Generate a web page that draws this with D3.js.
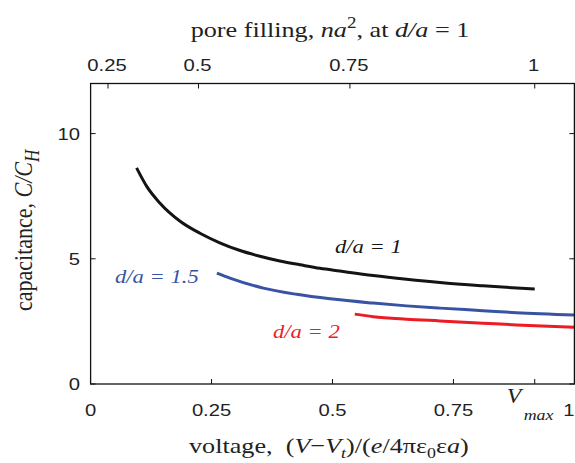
<!DOCTYPE html>
<html>
<head>
<meta charset="utf-8">
<script src="https://cdn.jsdelivr.net/npm/d3@7"></script>
<style>
  body { margin: 0; background: #fff; }
  .tick-label { font-family: "Liberation Sans", Arial, sans-serif; font-size: 17px; fill: #222; }
  .title { font-family: "Liberation Serif", "Times New Roman", serif; font-size: 22px; fill: #222; }
</style>
</head>
<body>
<div id="chart"></div>
<script>
// 1: DATA (voltage, capacitance)
const voltage1 = [0.095, 0.116, 0.143, 0.185, 0.226, 0.267, 0.309, 0.350, 0.391, 0.433, 0.474, 0.515, 0.584, 0.653, 0.722, 0.811, 0.918];
const cap1     = [8.63, 7.89, 7.23, 6.50, 6.02, 5.64, 5.33, 5.10, 4.91, 4.76, 4.62, 4.51, 4.33, 4.18, 4.05, 3.92, 3.79];

const voltage15 = [0.261, 0.288, 0.357, 0.426, 0.495, 0.584, 0.653, 0.722, 0.811, 0.880, 1.0];
const cap15     = [4.43, 4.23, 3.83, 3.58, 3.40, 3.23, 3.12, 3.03, 2.93, 2.85, 2.76];

const voltage2 = [0.546, 0.584, 0.653, 0.722, 0.811, 0.880, 1.0];
const cap2     = [2.79, 2.69, 2.59, 2.52, 2.43, 2.36, 2.27];

const xTicks = [0, 0.25, 0.5, 0.75, 1];
const yTicks = [0, 5, 10];
const vMax = 0.918;

// top axis: pore filling values and where they fall in voltage
const topTickLabels = ["0.25", "0.5", "0.75", "1"];
const topTickVoltage = [0.036, 0.223, 0.536, 0.918];

const series = [
  { name: "1",   v: voltage1,  c: cap1,  color: "#141414" },
  { name: "1.5", v: voltage15, c: cap15, color: "#3953a4" },
  { name: "2",   v: voltage2,  c: cap2,  color: "#ed1c24" }
];

// the original figure is a bit wider than tall, so text is stretched sideways
const SX = 1.19;

// 2: SVG + SCALES
const W = 575, H = 463;
const svg = d3.select("#chart").append("svg")
  .attr("width", W).attr("height", H);

const x = d3.scaleLinear().domain([0, 1]).range([90.6, 574.4]);
const y = d3.scaleLinear().domain([0, 12]).range([384, 83.5]);

function addText(cls, tx, ty, anchor) {
  return svg.append("text")
    .attr("class", cls)
    .attr("text-anchor", anchor || "start")
    .attr("transform", `translate(${tx},${ty}) scale(${SX},1)`);
}

// 3: CURVES
const line = d3.line()
  .x(d => x(d[0]))
  .y(d => y(d[1]))
  .curve(d3.curveMonotoneX);

svg.append("clipPath").attr("id", "clip")
  .append("rect")
  .attr("x", x(0)).attr("y", y(12))
  .attr("width", x(1) - x(0)).attr("height", y(0) - y(12));

svg.selectAll(".curve")
  .data(series)
  .enter().append("path")
  .attr("class", "curve")
  .attr("clip-path", "url(#clip)")
  .attr("fill", "none")
  .attr("stroke", d => d.color)
  .attr("stroke-width", 3)
  .attr("d", d => line(d.v.map((v, i) => [v, d.c[i]])));

// 4: FRAME + TICKS
svg.append("rect")
  .attr("x", x(0)).attr("y", y(12))
  .attr("width", x(1) - x(0)).attr("height", y(0) - y(12))
  .attr("fill", "none").attr("stroke", "#111").attr("stroke-width", 1.3);

const tickLen = 5;
const bottomTicks = [0.25, 0.5, 0.75, vMax];
svg.append("g").selectAll("line")
  .data(bottomTicks)
  .enter().append("line")
  .attr("x1", d => x(d)).attr("x2", d => x(d))
  .attr("y1", y(0)).attr("y2", y(0) - tickLen)
  .attr("stroke", "#111");

svg.append("g").selectAll("line")
  .data(topTickVoltage)
  .enter().append("line")
  .attr("x1", d => x(d)).attr("x2", d => x(d))
  .attr("y1", y(12)).attr("y2", y(12) + tickLen)
  .attr("stroke", "#111");

svg.append("g").selectAll("line")
  .data(yTicks)
  .enter().append("line")
  .attr("x1", x(0)).attr("x2", x(0) + tickLen)
  .attr("y1", d => y(d)).attr("y2", d => y(d))
  .attr("stroke", "#111");

svg.append("g").selectAll("line")
  .data(yTicks)
  .enter().append("line")
  .attr("x1", x(1)).attr("x2", x(1) - tickLen)
  .attr("y1", d => y(d)).attr("y2", d => y(d))
  .attr("stroke", "#111");

// 5: TICK LABELS
xTicks.forEach(t => {
  const last = t === 1;
  addText("tick-label", last ? W - 0.5 : x(t), 416, last ? "end" : "middle").text(d3.format("")(t));
});

yTicks.forEach(t => {
  addText("tick-label", 80, y(t) + 6, "end").text(t);
});

topTickVoltage.forEach((v, i) => {
  addText("tick-label", x(v) - 1, 71, "middle").text(topTickLabels[i]);
});

// V_max label
const vmLabel = addText("title", x(vMax) - 28, 403);
vmLabel.append("tspan").attr("font-style", "italic").attr("font-size", 20).text("V");
vmLabel.append("tspan").attr("font-style", "italic").attr("font-size", 15)
  .attr("dx", 2).attr("dy", 17).text("max");

// 6: AXIS TITLES
const topTitle = addText("title", 330, 37, "middle");
topTitle.append("tspan").text("pore filling, ");
topTitle.append("tspan").attr("font-style", "italic").text("na");
topTitle.append("tspan").attr("font-size", 16).attr("dy", -9).text("2");
topTitle.append("tspan").attr("dy", 9).text(", at ");
topTitle.append("tspan").attr("font-style", "italic").text("d/a");
topTitle.append("tspan").text(" = 1");

const bottomTitle = addText("title", 189, 453);
bottomTitle.append("tspan").text("voltage,\u00a0\u00a0(");
bottomTitle.append("tspan").attr("font-style", "italic").text("V");
bottomTitle.append("tspan").text("\u2212");
bottomTitle.append("tspan").attr("font-style", "italic").text("V");
bottomTitle.append("tspan").attr("font-style", "italic").attr("font-size", 15).attr("dy", 5).text("t");
bottomTitle.append("tspan").attr("dy", -5).text(")/(");
bottomTitle.append("tspan").attr("font-style", "italic").text("e");
bottomTitle.append("tspan").text("/4\u03c0\u03b5");
bottomTitle.append("tspan").attr("font-size", 15).attr("dy", 5).text("0");
bottomTitle.append("tspan").attr("dy", -5).text("\u03b5");
bottomTitle.append("tspan").attr("font-style", "italic").text("a");
bottomTitle.append("tspan").text(")");

const leftTitle = svg.append("text").attr("class", "title")
  .attr("font-size", 25)
  .attr("transform", `translate(32,311) scale(${SX},1) rotate(-90)`);
leftTitle.append("tspan").text("capacitance, ");
leftTitle.append("tspan").attr("font-style", "italic").text("C/C");
leftTitle.append("tspan").attr("font-style", "italic").attr("font-size", 17).attr("dy", 6).text("H");

// 7: CURVE LABELS
const labelPos = [
  { s: series[0], x: 335, y: 253 },
  { s: series[1], x: 115, y: 283 },
  { s: series[2], x: 273, y: 338 }
];
labelPos.forEach(p => {
  const t = addText("title", p.x, p.y)
    .style("font-size", "19px")
    .style("fill", p.s.color);
  t.append("tspan").attr("font-style", "italic").text(`d/a = ${p.s.name}`);
});
</script>
</body>
</html>
